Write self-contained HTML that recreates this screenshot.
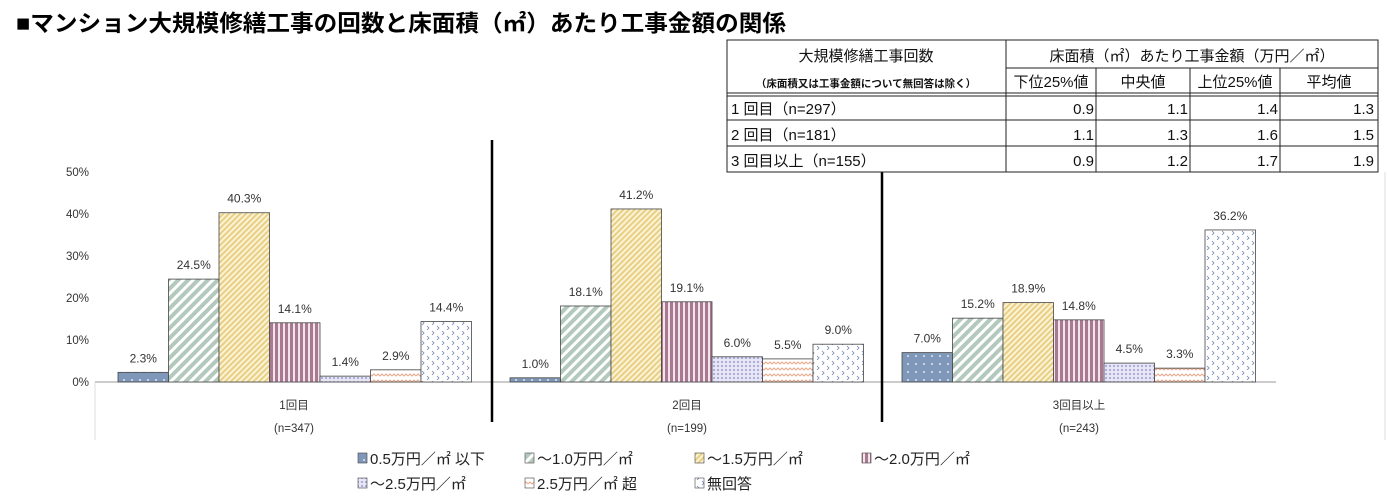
<!DOCTYPE html>
<html><head><meta charset="utf-8"><style>
body{margin:0;background:#fff;width:1387px;height:504px;overflow:hidden;font-family:"Liberation Sans","Noto Sans CJK JP",sans-serif}
</style></head><body>
<svg width="1387" height="504" xmlns="http://www.w3.org/2000/svg" style="position:absolute;left:0;top:0;font-family:'Liberation Sans','Noto Sans CJK JP',sans-serif">
<defs>
<pattern id="p0" width="8" height="8" patternUnits="userSpaceOnUse"><rect width="8" height="8" fill="#7f97b8"/><circle cx="4" cy="4" r="0.9" fill="#fff"/></pattern>
<pattern id="p1" width="7" height="7" patternUnits="userSpaceOnUse" patternTransform="rotate(45)"><rect width="7" height="7" fill="#fff"/><rect width="4" height="7" fill="#b3c9bd"/></pattern>
<pattern id="p2" width="4" height="4" patternUnits="userSpaceOnUse" patternTransform="rotate(45)"><rect width="4" height="4" fill="#fbf3d8"/><rect width="2" height="4" fill="#e8cf82"/></pattern>
<pattern id="p3" width="5" height="5" patternUnits="userSpaceOnUse"><rect width="5" height="5" fill="#f2e4ea"/><rect width="3" height="5" fill="#a87a92"/></pattern>
<pattern id="p4" width="4" height="4" patternUnits="userSpaceOnUse"><rect width="4" height="4" fill="#e6e6f6"/><circle cx="2" cy="2" r="1" fill="#9d9dd0"/></pattern>
<pattern id="p5" width="8" height="6" patternUnits="userSpaceOnUse"><rect width="8" height="6" fill="#fff"/><path d="M0 4 L2 2 L4 4 L6 2 L8 4" stroke="#eaa88a" fill="none" stroke-width="1"/></pattern>
<pattern id="p6" width="10" height="10" patternUnits="userSpaceOnUse"><rect width="10" height="10" fill="#fff"/><path d="M2 1 L4 3 L2 5 M7 6 L9 8 L7 10" stroke="#6f86b2" fill="none" stroke-width="0.8"/></pattern>
</defs>
<text x="16" y="31" font-size="23" font-weight="bold" fill="#000" textLength="770" lengthAdjust="spacingAndGlyphs">■マンション大規模修繕工事の回数と床面積（㎡）あたり工事金額の関係</text>
<g font-size="11.5" fill="#333" text-anchor="end">
<text x="89" y="176">50%</text><text x="89" y="218">40%</text><text x="89" y="260">30%</text><text x="89" y="302">20%</text><text x="89" y="344">10%</text><text x="89" y="386">0%</text>
</g>
<line x1="95" y1="382" x2="1276" y2="382" stroke="#999" stroke-width="1"/>
<line x1="95" y1="382" x2="95" y2="440" stroke="#ddd"/>
<line x1="1385" y1="172" x2="1385" y2="440" stroke="#ddd"/>
<line x1="492" y1="140" x2="492" y2="422" stroke="#000" stroke-width="2.5"/>
<line x1="882" y1="172" x2="882" y2="422" stroke="#000" stroke-width="2.5"/>
<g id="bars" stroke="#444" stroke-width="0.8" font-size="12" fill="#333" text-anchor="middle"></g>
<g font-size="11.5" fill="#333" text-anchor="middle">
<text x="294" y="409">1回目</text><text x="294" y="432">(n=347)</text>
<text x="687" y="409">2回目</text><text x="687" y="432">(n=199)</text>
<text x="1079" y="409">3回目以上</text><text x="1079" y="432">(n=243)</text>
</g>
<g font-size="15" fill="#222">
<rect x="358" y="453" width="9" height="10" fill="url(#p0)" stroke="#444" stroke-width="0.6"/><text x="370" y="464">0.5万円／㎡ 以下</text>
<rect x="525" y="453" width="9" height="10" fill="url(#p1)" stroke="#444" stroke-width="0.6"/><text x="537" y="464">～1.0万円／㎡</text>
<rect x="695" y="453" width="9" height="10" fill="url(#p2)" stroke="#444" stroke-width="0.6"/><text x="707" y="464">～1.5万円／㎡</text>
<rect x="862" y="453" width="9" height="10" fill="url(#p3)" stroke="#444" stroke-width="0.6"/><text x="874" y="464">～2.0万円／㎡</text>
<rect x="358" y="478" width="9" height="10" fill="url(#p4)" stroke="#444" stroke-width="0.6"/><text x="370" y="489">～2.5万円／㎡</text>
<rect x="525" y="478" width="9" height="10" fill="url(#p5)" stroke="#444" stroke-width="0.6"/><text x="537" y="489">2.5万円／㎡ 超</text>
<rect x="695" y="478" width="9" height="10" fill="url(#p6)" stroke="#444" stroke-width="0.6"/><text x="707" y="489">無回答</text>
</g>
<rect x="727" y="40" width="651" height="132" fill="#fff" stroke="#222" stroke-width="1"/>
<g stroke="#222" stroke-width="1">
<line x1="1006" y1="68" x2="1378" y2="68"/>
<line x1="727" y1="93" x2="1378" y2="93"/><line x1="727" y1="96" x2="1378" y2="96"/>
<line x1="727" y1="120" x2="1378" y2="120"/><line x1="727" y1="146" x2="1378" y2="146"/>
<line x1="1006" y1="40" x2="1006" y2="172"/>
<line x1="1096" y1="68" x2="1096" y2="172"/><line x1="1190" y1="68" x2="1190" y2="172"/><line x1="1280" y1="68" x2="1280" y2="172"/>
</g>
<g font-size="15" fill="#111">
<text x="866" y="61" text-anchor="middle">大規模修繕工事回数</text>
<text x="866" y="87" text-anchor="middle" font-size="10.5" font-weight="bold">（床面積又は工事金額について無回答は除く）</text>
<text x="1192" y="61" text-anchor="middle">床面積（㎡）あたり工事金額（万円／㎡）</text>
<text x="1051" y="87" text-anchor="middle">下位25%値</text><text x="1143" y="87" text-anchor="middle">中央値</text>
<text x="1235" y="87" text-anchor="middle">上位25%値</text><text x="1329" y="87" text-anchor="middle">平均値</text>
<text x="731" y="114">1 回目（n=297）</text><text x="731" y="140">2 回目（n=181）</text><text x="731" y="166">3 回目以上（n=155）</text>
<g text-anchor="end">
<text x="1094" y="114">0.9</text><text x="1188" y="114">1.1</text><text x="1278" y="114">1.4</text><text x="1374" y="114">1.3</text>
<text x="1094" y="140">1.1</text><text x="1188" y="140">1.3</text><text x="1278" y="140">1.6</text><text x="1374" y="140">1.5</text>
<text x="1094" y="166">0.9</text><text x="1188" y="166">1.2</text><text x="1278" y="166">1.7</text><text x="1374" y="166">1.9</text>
</g></g>
</svg>
<script>
var data=[[2.3,24.5,40.3,14.1,1.4,2.9,14.4],[1.0,18.1,41.2,19.1,6.0,5.5,9.0],[7.0,15.2,18.9,14.8,4.5,3.3,36.2]];
var starts=[118,510,902],w=50.5,g=document.getElementById('bars'),s='';
data.forEach(function(d,gi){d.forEach(function(v,i){var x=starts[gi]+i*w,h=v*4.2,y=382-h;
s+='<rect x="'+x+'" y="'+y+'" width="'+w+'" height="'+h+'" fill="url(#p'+i+')"/>';
s+='<text x="'+(x+w/2)+'" y="'+(y-10)+'" stroke="none">'+v.toFixed(1)+'%</text>';});});
g.innerHTML=s;
</script>
</body></html>
